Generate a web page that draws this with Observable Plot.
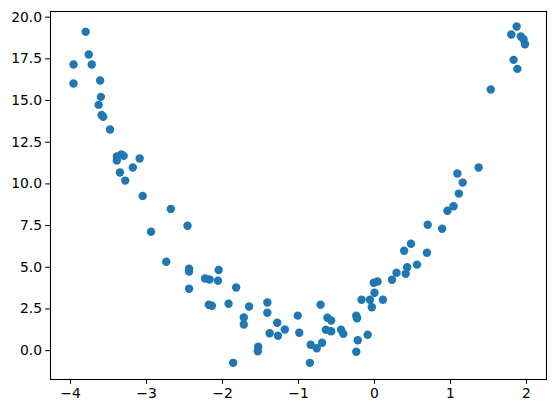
<!DOCTYPE html>
<html>
<head>
<meta charset="utf-8">
<script src="https://cdn.jsdelivr.net/npm/d3@7"></script>
<script src="https://cdn.jsdelivr.net/npm/@observablehq/plot@0.6"></script>
<style>
  html, body { margin: 0; padding: 0; background: #fff; }
  #chart svg { display: block; }
</style>
</head>
<body>
<div id="chart"></div>
<script>
const xs = [
  -3.80, -3.76, -3.96, -3.72, -3.96, -3.61, -3.60, -3.63, -3.59, -3.57,
  -3.48, -3.39, -3.33, -3.30, -3.39, -3.09, -3.18, -3.35, -3.28, -3.05,
  -2.68, -2.46, -2.94, -2.74, -2.44, -2.44, -2.05, -2.23, -2.17, -2.06,
  -2.44, -1.82, -2.18, -2.14, -1.92, -1.86,
  -1.72, -1.72, -1.65, -1.53, -1.535, -1.41, -1.41, -1.28, -1.38, -1.27,
  -1.18, -1.01, -0.99, -0.84, -0.76, -0.69, -0.85, -0.71, -0.62, -0.57,
  -0.64, -0.57, -0.44, -0.41, -0.24, -0.23, -0.22, -0.24, -0.09, -0.17,
  -0.06, 0.00, -0.035, -0.01, 0.04, 0.11, 0.23, 0.29, 0.41, 0.43,
  0.56, 0.39, 0.48,
  0.69, 0.70, 0.89, 0.96, 1.04,
  1.87, 1.80, 1.925, 1.96, 1.98, 1.83, 1.88, 1.53, 1.37, 1.09, 1.16, 1.11
];
const ys = [
  19.12, 17.76, 17.16, 17.16, 16.02, 16.20, 15.22, 14.74, 14.14, 14.02,
  13.26, 11.64, 11.76, 11.68, 11.40, 11.52, 10.98, 10.68, 10.20, 9.28,
  8.50, 7.49, 7.13, 5.33, 4.91, 4.74, 4.84, 4.33, 4.27, 4.19,
  3.71, 3.79, 2.75, 2.69, 2.81, -0.73,
  1.99, 1.57, 2.65, 0.23, -0.04, 2.89, 2.27, 1.67, 1.04, 0.89,
  1.27, 2.10, 1.07, 0.35, 0.14, 0.47, -0.73, 2.75, 1.97, 1.81,
  1.25, 1.16, 1.25, 1.01, 2.10, 1.94, 0.62, -0.07, 0.95, 3.05,
  3.05, 3.47, 2.60, 4.07, 4.15, 3.05, 4.25, 4.67, 4.61, 5.00,
  5.16, 5.99, 6.41,
  5.87, 7.55, 7.31, 8.39, 8.66,
  19.44, 18.96, 18.84, 18.68, 18.38, 17.44, 16.90, 15.66, 10.98, 10.62, 10.08, 9.42
];
const xTicks = [-4, -3, -2, -1, 0, 1, 2];
const yTicks = [0, 2.5, 5, 7.5, 10, 12.5, 15, 17.5, 20];

const data = xs.map((x, i) => ({x, y: ys[i]}));

const chart = Plot.plot({
  width: 556,
  height: 413,
  marginLeft: 50,
  marginRight: 10,
  marginTop: 11,
  marginBottom: 34,
  style: {fontFamily: "DejaVu Sans", fontSize: "13.9px", color: "black", background: "white"},
  x: {domain: [-4.263, 2.263]},
  y: {domain: [-1.73, 20.34]},
  marks: [
    Plot.dot(data, {x: "x", y: "y", r: 4.2, fill: "#1f77b4", stroke: "none"}),
    Plot.frame({stroke: "black", strokeWidth: 1.1}),
    Plot.axisX({ticks: xTicks, tickFormat: d3.format("d"), tickSize: 4.9, tickPadding: 3.5, label: null, fontSize: 13.9}),
    Plot.axisY({ticks: yTicks, tickFormat: d3.format(".1f"), tickSize: 4.9, tickPadding: 3.5, label: null, fontSize: 13.9})
  ]
});
document.getElementById("chart").appendChild(chart);
</script>
</body>
</html>
